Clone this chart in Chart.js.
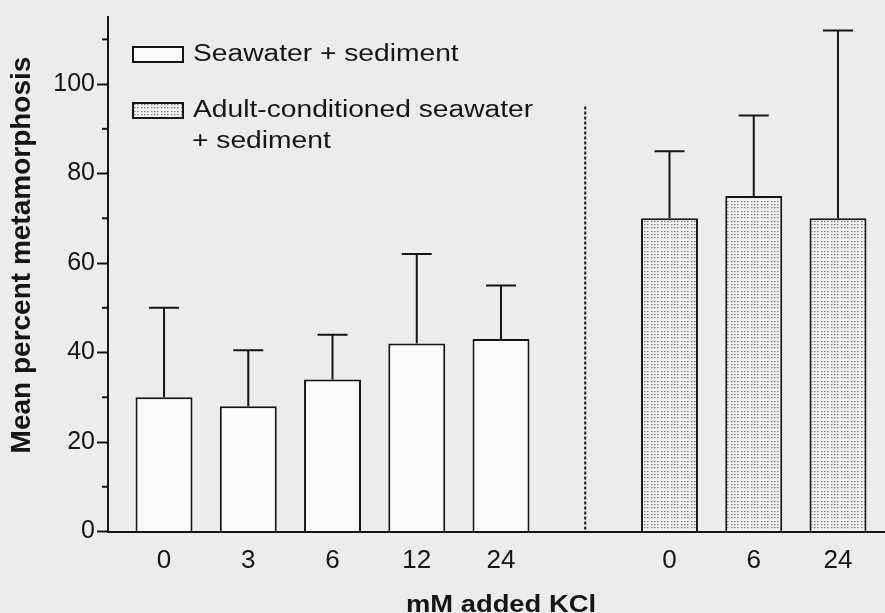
<!DOCTYPE html>
<html>
<head>
<meta charset="utf-8">
<script src="https://cdn.jsdelivr.net/npm/chart.js@4.4.1/dist/chart.umd.min.js"></script>
<style>
  html, body { margin: 0; padding: 0; background: #ececec; }
  #wrap { width: 885px; height: 613px; }
</style>
</head>
<body>
<div id="wrap"><canvas id="c" width="885" height="613"></canvas></div>
<script>
// ---- data ----
const categories = ['0', '3', '6', '12', '24', '', '0', '6', '24'];
const seawater      = [30, 28, 34, 42, 43, null, null, null, null];
const seawaterSD    = [20, 12.5, 10, 20, 12, null, null, null, null];
const conditioned   = [null, null, null, null, null, null, 70, 75, 70];
const conditionedSD = [null, null, null, null, null, null, 15, 18, 42];
const yTicks = [0, 20, 40, 60, 80, 100];
const seriesNames = ['Seawater + sediment', 'Adult-conditioned seawater + sediment'];
const legendLines = [['Seawater + sediment'], ['Adult-conditioned seawater', '+ sediment']];
const xTitle = 'mM added KCl';
const yTitle = 'Mean percent metamorphosis';
const separatorTop = 95;

// ---- stipple pattern ----
function makePattern() {
  const p = document.createElement('canvas');
  p.width = 10; p.height = 10;
  const g = p.getContext('2d');
  g.fillStyle = '#f2f2f2';
  g.fillRect(0, 0, 10, 10);
  g.fillStyle = '#7a7a7a';
  [1, 4, 7].forEach(x => [1, 4, 7].forEach(y => g.fillRect(x, y, 1.5, 1.2)));
  return document.getElementById('c').getContext('2d').createPattern(p, 'repeat');
}
const stipple = makePattern();

function toPoints(arr) {
  return arr.map((v, i) => v == null ? null : { x: i, y: v }).filter(Boolean);
}

const INK = '#151515';

const bgPlugin = {
  id: 'bg',
  beforeDraw(chart) {
    const c = chart.ctx;
    c.save();
    c.fillStyle = '#ececec';
    c.fillRect(0, 0, chart.width, chart.height);
    c.restore();
  }
};

const extras = {
  id: 'extras',
  afterDatasetsDraw(chart) {
    const c = chart.ctx;
    const ys = chart.scales.y, xs = chart.scales.x;
    const sds = [seawaterSD, conditionedSD];
    c.save();
    c.strokeStyle = INK;
    c.lineWidth = 2;
    chart.data.datasets.forEach((ds, di) => {
      const meta = chart.getDatasetMeta(di);
      meta.data.forEach((el, j) => {
        const pt = ds.data[j];
        const sd = sds[di][pt.x];
        if (sd == null) return;
        const yTop = ys.getPixelForValue(pt.y + sd);
        c.beginPath();
        c.moveTo(el.x, el.y);
        c.lineTo(el.x, yTop);
        c.moveTo(el.x - 15, yTop);
        c.lineTo(el.x + 15, yTop);
        c.stroke();
      });
    });
    // separator dashed line
    const sepIdx = categories.indexOf('');
    const sx = xs.getPixelForValue(sepIdx);
    c.setLineDash([3, 2]);
    c.lineWidth = 2;
    c.beginPath();
    c.moveTo(sx, ys.getPixelForValue(separatorTop));
    c.lineTo(sx, ys.getPixelForValue(0));
    c.stroke();
    c.setLineDash([]);
    // minor y ticks
    c.lineWidth = 2;
    ys.ticks.forEach(t => {
      if (yTicks.includes(t.value)) return;
      const py = ys.getPixelForValue(t.value);
      c.beginPath();
      c.moveTo(chart.chartArea.left - 6, py);
      c.lineTo(chart.chartArea.left, py);
      c.stroke();
    });
    c.restore();
  },
  afterDraw(chart) {
    const c = chart.ctx;
    c.save();
    c.fillStyle = INK;
    // legend
    const fills = ['#fafafa', stipple];
    const boxTops = [47, 103];
    const baselines = [[61], [117, 148]];
    for (let i = 0; i < 2; i++) {
      c.fillStyle = fills[i];
      c.fillRect(133, boxTops[i], 50, 15);
      c.strokeStyle = INK;
      c.lineWidth = 2;
      c.strokeRect(133, boxTops[i], 50, 15);
      c.fillStyle = INK;
      c.font = '23.5px "Liberation Sans", Arial, sans-serif';
      c.textBaseline = 'alphabetic';
      c.textAlign = 'left';
      legendLines[i].forEach((ln, k) => {
        c.save();
        c.translate(k === 0 ? 193 : 192, baselines[i][k]);
        c.scale(1.2, 1);
        c.fillText(ln, 0, 0);
        c.restore();
      });
    }
    // y title
    c.save();
    c.font = 'bold 28px "Liberation Sans", Arial, sans-serif';
    c.textAlign = 'center';
    c.textBaseline = 'middle';
    c.translate(22, 255);
    c.rotate(-Math.PI / 2);
    c.fillText(yTitle, 0, 0);
    c.restore();
    // x title
    c.save();
    c.font = 'bold 24px "Liberation Sans", Arial, sans-serif';
    c.textAlign = 'center';
    c.textBaseline = 'alphabetic';
    c.translate(501, 612);
    c.scale(1.14, 1);
    c.fillText(xTitle, 0, 0);
    c.restore();
    c.restore();
  }
};

new Chart(document.getElementById('c'), {
  type: 'bar',
  data: {
    datasets: [
      {
        label: seriesNames[0],
        data: toPoints(seawater),
        backgroundColor: '#fafafa',
        borderColor: INK,
        borderWidth: 2,
        borderSkipped: 'bottom',
        grouped: false,
        barPercentage: 0.676,
        categoryPercentage: 1
      },
      {
        label: seriesNames[1],
        data: toPoints(conditioned),
        backgroundColor: stipple,
        borderColor: INK,
        borderWidth: 2,
        borderSkipped: 'bottom',
        grouped: false,
        barPercentage: 0.676,
        categoryPercentage: 1
      }
    ]
  },
  options: {
    responsive: false,
    animation: false,
    devicePixelRatio: 1,
    layout: { padding: { top: 9, left: 0, right: 0, bottom: 0 } },
    plugins: { legend: { display: false }, tooltip: { enabled: false } },
    scales: {
      x: {
        type: 'linear',
        min: -0.665,
        max: 8.558,
        offset: false,
        grid: { display: false, drawTicks: false },
        border: { display: true, color: INK, width: 2 },
        afterBuildTicks: s => { s.ticks = categories.map((l, i) => ({ value: i })).filter(t => categories[t.value] !== ''); },
        ticks: {
          autoSkip: false,
          maxRotation: 0,
          padding: 14,
          color: INK,
          font: { family: '"Liberation Sans", Arial, sans-serif', size: 26 },
          callback: v => categories[v]
        },
        afterFit: s => { s.height = 81.5; }
      },
      y: {
        min: 0,
        max: 115,
        grid: {
          display: true,
          drawOnChartArea: false,
          drawTicks: true,
          tickLength: 11,
          tickWidth: 2,
          tickColor: ctx => yTicks.includes(ctx.tick.value) ? INK : 'rgba(0,0,0,0)'
        },
        border: { display: true, color: INK, width: 2 },
        ticks: {
          stepSize: 10,
          includeBounds: false,
          padding: 2,
          color: INK,
          font: { family: '"Liberation Sans", Arial, sans-serif', size: 25 },
          callback: v => yTicks.includes(v) ? String(v) : ''
        },
        afterFit: s => { s.width = 108; }
      }
    }
  },
  plugins: [bgPlugin, extras]
});
</script>
</body>
</html>
